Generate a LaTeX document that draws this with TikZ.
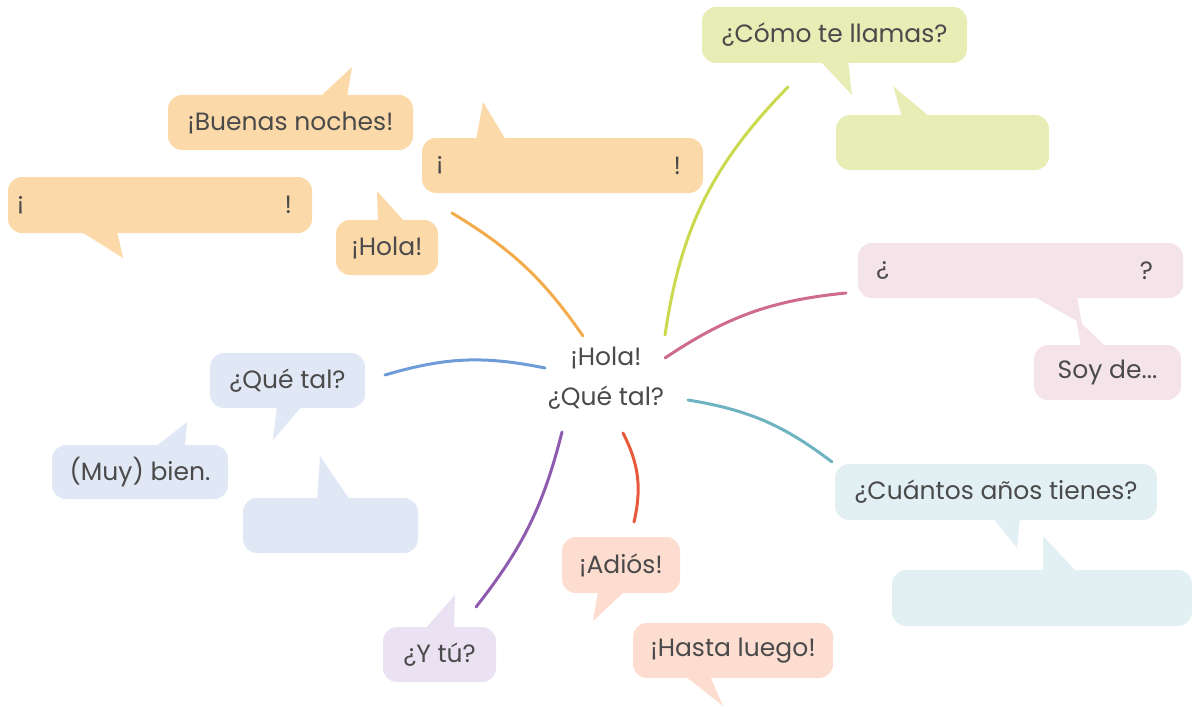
\documentclass[tikz,border=0pt]{standalone}
\usepackage{fontspec}
\setmainfont{Poppins}
\usepackage{tikz}

\definecolor{ink}{HTML}{4A4A4A}
\definecolor{orfill}{HTML}{FCD9A8}
\definecolor{orline}{HTML}{F3AC4C}
\definecolor{grfill}{HTML}{E8ECB5}
\definecolor{grline}{HTML}{CAD94E}
\definecolor{pkfill}{HTML}{F5E3EA}
\definecolor{pkline}{HTML}{CF6B90}
\definecolor{tlfill}{HTML}{E2F0F4}
\definecolor{tlline}{HTML}{6DB3C0}
\definecolor{blfill}{HTML}{E1E8F5}
\definecolor{blline}{HTML}{6E9CD8}
\definecolor{pufill}{HTML}{EAE2F2}
\definecolor{puline}{HTML}{8F5BAE}
\definecolor{safill}{HTML}{FCDDD0}
\definecolor{saline}{HTML}{E8583A}

\tikzset{
    bubble/.style={rounded corners=7pt, inner sep=0pt, text=ink, font=\fontsize{12.5}{15}\selectfont},
    word/.style={inner sep=0pt, text=ink, font=\fontsize{12.5}{15}\selectfont},
    branch/.style={line width=1.5pt, line cap=round},
}

\begin{document}
\begin{tikzpicture}[x=0.5pt, y=-0.5pt]
        \useasboundingbox (0,0) rectangle (1192,706);
        \node[word, align=center, font=\fontsize{12.5}{20}\selectfont] (ctr) at (606,378) {¡Hola!\\¿Qué tal?};

        \node[bubble, fill=orfill, minimum width=122.5pt, minimum height=27.5pt] (buenas) at (290.5,122.5) {¡Buenas noches!};
        \fill[orfill] (320,97) -- (352,67) -- (347,97) -- cycle;
        \node[bubble, fill=orfill, minimum width=152pt, minimum height=28pt] (blankl) at (160,205) {};
        \fill[orfill] (80,231) -- (123,258) -- (117,231) -- cycle;
        \node[word, anchor=west] at ([xshift=4.5pt]blankl.west) {¡};
        \node[word, anchor=east] at ([xshift=-10pt]blankl.east) {!};
        \node[bubble, fill=orfill, minimum width=51pt, minimum height=27.5pt] (hola) at (387,247.5) {¡Hola!};
        \fill[orfill] (378,222) -- (377,191) -- (405,222) -- cycle;
        \node[bubble, fill=orfill, minimum width=140.5pt, minimum height=27.5pt] (blankm) at (562.5,165.5) {};
        \fill[orfill] (476,140) -- (483,102) -- (506,140) -- cycle;
        \node[word, anchor=west] at ([xshift=7pt]blankm.west) {¡};
        \node[word, anchor=east] at ([xshift=-11pt]blankm.east) {!};

        \node[bubble, fill=grfill, minimum width=132.5pt, minimum height=28pt] (como) at (834.5,35) {¿Cómo te llamas?};
        \fill[grfill] (820,61) -- (852,95) -- (848,61) -- cycle;
        \node[bubble, fill=grfill, minimum width=106.5pt, minimum height=27.5pt] (blankg) at (942.5,142.5) {};
        \fill[grfill] (902,117) -- (893,86) -- (930,117) -- cycle;

        \node[bubble, fill=pkfill, minimum width=162.5pt, minimum height=27.5pt] (blankp) at (1020.5,270.5) {};
        \fill[pkfill] (1033,296) -- (1082,324) -- (1077,296) -- cycle;
        \node[word, anchor=west] at ([xshift=9pt]blankp.west) {¿};
        \node[word, anchor=east] at ([xshift=-15pt]blankp.east) {?};
        \node[bubble, fill=pkfill, minimum width=73.5pt, minimum height=27.5pt] (soy) at (1107.5,372.5) {Soy de...};
        \fill[pkfill] (1076,318) -- (1081,347) -- (1106,347) -- cycle;

        \node[bubble, fill=tlfill, minimum width=161pt, minimum height=28pt] (cuantos) at (996,492) {¿Cuántos años tienes?};
        \fill[tlfill] (993,518) -- (1017,548) -- (1020,518) -- cycle;
        \node[bubble, fill=tlfill, minimum width=150pt, minimum height=28pt] (blankt) at (1042,598) {};
        \fill[tlfill] (1043,572) -- (1043,536) -- (1077,572) -- cycle;

        \node[bubble, fill=blfill, minimum width=77.5pt, minimum height=27.5pt] (quetal) at (287.5,380.5) {¿Qué tal?};
        \fill[blfill] (277,406) -- (273,440) -- (302,406) -- cycle;
        \node[bubble, fill=blfill, minimum width=88pt, minimum height=27pt] (muy) at (140,472) {(Muy) bien.};
        \fill[blfill] (155,447) -- (187,422) -- (185,447) -- cycle;
        \node[bubble, fill=blfill, minimum width=87.5pt, minimum height=27.5pt] (blankb) at (330.5,525.5) {};
        \fill[blfill] (317,500) -- (320,456) -- (350,500) -- cycle;

        \node[bubble, fill=pufill, minimum width=56.5pt, minimum height=27.5pt] (ytu) at (439.5,654.5) {¿Y tú?};
        \fill[pufill] (425,629) -- (455,595) -- (454,629) -- cycle;

        \node[bubble, fill=safill, minimum width=59pt, minimum height=28pt] (adios) at (621,565) {¡Adiós!};
        \fill[safill] (598,591) -- (593,621) -- (625,591) -- cycle;
        \node[bubble, fill=safill, minimum width=100pt, minimum height=27.5pt] (hasta) at (733,650.5) {¡Hasta luego!};
        \fill[safill] (685,676) -- (723,706) -- (710,676) -- cycle;

        \coordinate (o1) at (583,336); \coordinate (o2) at (452,213);
        \coordinate (g1) at (665,335); \coordinate (g2) at (788,87);
        \coordinate (p1) at (665,358); \coordinate (p2) at (846,293);
        \coordinate (t1) at (688,400); \coordinate (t2) at (832,462);
        \coordinate (r1) at (623,433); \coordinate (r2) at (634,522);
        \coordinate (u1) at (562,432); \coordinate (u2) at (476,607);
        \coordinate (b1) at (545,368); \coordinate (b2) at (385,375);

        \draw[branch, orline] (o1) to[bend right=12] (o2);
        \draw[branch, grline] (g1) to[bend left=18] (g2);
        \draw[branch, pkline] (p1) to[bend left=14] (p2);
        \draw[branch, tlline] (t1) to[bend left=14] (t2);
        \draw[branch, saline] (r1) to[bend left=20] (r2);
        \draw[branch, puline] (u1) to[bend left=12] (u2);
        \draw[branch, blline] (b1) to[bend right=14] (b2);
    \end{tikzpicture}
\end{document}
